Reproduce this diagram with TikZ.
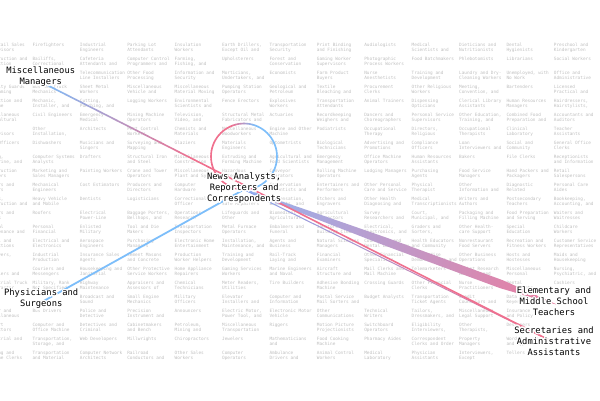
\documentclass[tikz,border=0pt]{standalone}
\usepackage{fontspec}
\usepackage[copies]{contour}
\usetikzlibrary{calc}
\newfontfamily\dvmono{DejaVu Sans Mono}
\definecolor{blueC}{RGB}{125,190,250}
\definecolor{pinkC}{RGB}{240,112,142}
\definecolor{lineA}{RGB}{135,165,240}
\definecolor{bandA}{RGB}{150,180,240}
\definecolor{bandB}{RGB}{198,172,226}
\definecolor{bandC}{RGB}{236,124,158}
\definecolor{bgtxt}{RGB}{192,192,192}
\contourlength{1.3pt}
\contournumber{20}
\pgfdeclarelayer{bglayer}
\pgfdeclarelayer{edgelayer}
\pgfsetlayers{bglayer,edgelayer,main}
\tikzset{
  bgtext/.style={anchor=base west, inner sep=0pt, text=bgtxt, font=\dvmono\fontsize{4.4}{4.5}\selectfont},
  lbl/.style={inner sep=0pt, align=center, text=black, font=\dvmono\fontsize{8.8}{8.9}\selectfont},
  edgeline/.style={line cap=round},
}
\newcommand\bgcell[4]{\node[bgtext] (bg#1r#2) at ({32.3+47.4*(#1)},{46.5+14*(#2)}) {\vtop{\baselineskip=4.5pt\lineskiplimit=-5pt\hbox{#3}\hbox{#4}}};}
\newcommand\lab[1]{\contour{white}{\vphantom{lg}#1}}

\begin{document}
\begin{tikzpicture}[x=1pt,y=-1pt]
\useasboundingbox (0,0) rectangle (600,400);
\begin{pgfonlayer}{bglayer}
\fill[white] (0,0) rectangle (600,400);
\clip (0,0) rectangle (600,400);
% row 0
\bgcell{-1}{0}{Nonretail Sales}{Supervisors}
\bgcell{0}{0}{Firefighters}{}
\bgcell{1}{0}{Industrial}{Engineers}
\bgcell{2}{0}{Parking Lot}{Attendants}
\bgcell{3}{0}{Insulation}{Workers}
\bgcell{4}{0}{Earth Drillers,}{Except Oil and}
\bgcell{5}{0}{Transportation}{Security}
\bgcell{6}{0}{Print Binding}{and Finishing}
\bgcell{7}{0}{Audiologists}{}
\bgcell{8}{0}{Medical}{Scientists and}
\bgcell{9}{0}{Dieticians and}{Nutritionists}
\bgcell{10}{0}{Dental}{Hygienists}
\bgcell{11}{0}{Preschool and}{Kindergarten}
% row 1
\bgcell{-1}{1}{Construction and}{Extraction}
\bgcell{0}{1}{Bailiffs,}{Correctional}
\bgcell{1}{1}{Cafeteria}{Attendants and}
\bgcell{2}{1}{Computer Control}{Programmers and}
\bgcell{3}{1}{Farming,}{Fishing, and}
\bgcell{4}{1}{Upholsterers}{}
\bgcell{5}{1}{Forest and}{Conservation}
\bgcell{6}{1}{Gaming Worker}{Supervisors}
\bgcell{7}{1}{Photographic}{Process Workers}
\bgcell{8}{1}{Food Batchmakers}{}
\bgcell{9}{1}{Phlebotomists}{}
\bgcell{10}{1}{Librarians}{}
\bgcell{11}{1}{Social Workers}{}
% row 2
\bgcell{1}{2}{Telecommunication}{Line Installers}
\bgcell{2}{2}{Other Food}{Processing}
\bgcell{3}{2}{Information and}{Security}
\bgcell{4}{2}{Morticians,}{Undertakers, and}
\bgcell{5}{2}{Economists}{}
\bgcell{6}{2}{Farm Product}{Buyers}
\bgcell{7}{2}{Nurse}{Anesthetists}
\bgcell{8}{2}{Training and}{Development}
\bgcell{9}{2}{Laundry and Dry-}{Cleaning Workers}
\bgcell{10}{2}{Unemployed, with}{No Work}
\bgcell{11}{2}{Office and}{Administrative}
% row 3
\bgcell{-1}{3}{Security Guards}{and Gaming}
\bgcell{0}{3}{Bus and Truck}{Mechanics}
\bgcell{1}{3}{Sheet Metal}{Workers}
\bgcell{2}{3}{Miscellaneous}{Vehicle and}
\bgcell{3}{3}{Miscellaneous}{Material Moving}
\bgcell{4}{3}{Pumping Station}{Operators}
\bgcell{5}{3}{Geological and}{Petroleum}
\bgcell{6}{3}{Textile}{Bleaching and}
\bgcell{7}{3}{Procurement}{Clerks}
\bgcell{8}{3}{Other Religious}{Workers}
\bgcell{9}{3}{Meeting,}{Convention, and}
\bgcell{10}{3}{Bartenders}{}
\bgcell{11}{3}{Licensed}{Practical and}
% row 4
\bgcell{-1}{4}{Production and}{Combine}
\bgcell{0}{4}{Mechanic,}{Installer, and}
\bgcell{1}{4}{Cutting,}{Punching, and}
\bgcell{2}{4}{Logging Workers}{}
\bgcell{3}{4}{Environmental}{Scientists and}
\bgcell{4}{4}{Fence Erectors}{}
\bgcell{5}{4}{Explosives}{Workers}
\bgcell{6}{4}{Transportation}{Attendants}
\bgcell{7}{4}{Animal Trainers}{}
\bgcell{8}{4}{Dispensing}{Opticians}
\bgcell{9}{4}{Clerical Library}{Assistants}
\bgcell{10}{4}{Human Resources}{Managers}
\bgcell{11}{4}{Hairdressers,}{Hairstylists,}
% row 5
\bgcell{-1}{5}{Miscellaneous}{Agricultural}
\bgcell{0}{5}{Civil Engineers}{}
\bgcell{1}{5}{Emergency}{Medical}
\bgcell{2}{5}{Mining Machine}{Operators}
\bgcell{3}{5}{Television,}{Video, and}
\bgcell{4}{5}{Structural Metal}{Fabricators and}
\bgcell{5}{5}{Actuaries}{}
\bgcell{6}{5}{Recordkeeping}{Weighers and}
\bgcell{7}{5}{Dancers and}{Choreographers}
\bgcell{8}{5}{Personal Service}{Supervisors}
\bgcell{9}{5}{Other Education,}{Training, and}
\bgcell{10}{5}{Combined Food}{Preparation and}
\bgcell{11}{5}{Accountants and}{Auditors}
% row 6
\bgcell{-1}{6}{Other}{Supervisors}
\bgcell{0}{6}{Other}{Installation,}
\bgcell{1}{6}{Architects}{}
\bgcell{2}{6}{Pest Control}{Workers}
\bgcell{3}{6}{Chemists and}{Materials}
\bgcell{4}{6}{Miscellaneous}{Woodworkers}
\bgcell{5}{6}{Engine and Other}{Machine}
\bgcell{6}{6}{Podiatrists}{}
\bgcell{7}{6}{Occupational}{Therapy}
\bgcell{8}{6}{Directors,}{Religious}
\bgcell{9}{6}{Occupational}{Therapists}
\bgcell{10}{6}{Clinical}{Laboratory}
\bgcell{11}{6}{Teacher}{Assistants}
% row 7
\bgcell{-1}{7}{Loan Officers}{}
\bgcell{0}{7}{Dishwashers}{}
\bgcell{1}{7}{Musicians and}{Singers}
\bgcell{2}{7}{Surveying and}{Mapping}
\bgcell{3}{7}{Glaziers}{}
\bgcell{4}{7}{Materials}{Engineers}
\bgcell{5}{7}{Optometrists}{}
\bgcell{6}{7}{Biological}{Technicians}
\bgcell{7}{7}{Advertising and}{Promotions}
\bgcell{8}{7}{Compliance}{Officers}
\bgcell{9}{7}{Loan}{Interviewers and}
\bgcell{10}{7}{Social and}{Community}
\bgcell{11}{7}{General Office}{Clerks}
% row 8
\bgcell{-1}{8}{Mining,}{Submarine, and}
\bgcell{0}{8}{Computer Systems}{Analysts}
\bgcell{1}{8}{Drafters}{}
\bgcell{2}{8}{Structural Iron}{and Steel}
\bgcell{3}{8}{Miscellaneous}{Construction}
\bgcell{4}{8}{Extruding and}{Forming Machine}
\bgcell{5}{8}{Agricultural and}{Food Scientists}
\bgcell{6}{8}{Emergency}{Management}
\bgcell{7}{8}{Office Machine}{Operators}
\bgcell{8}{8}{Human Resources}{Assistants}
\bgcell{9}{8}{Bakers}{}
\bgcell{10}{8}{File Clerks}{}
\bgcell{11}{8}{Receptionists}{and Information}
% row 9
\bgcell{-1}{9}{Construction}{Laborers}
\bgcell{0}{9}{Marketing and}{Sales Managers}
\bgcell{1}{9}{Painting Workers}{}
\bgcell{2}{9}{Crane and Tower}{Operators}
\bgcell{3}{9}{Miscellaneous}{Plant and System}
\bgcell{4}{9}{Hazardous}{Materials}
\bgcell{5}{9}{Conveyor}{Operators}
\bgcell{6}{9}{Rolling Machine}{Operators}
\bgcell{7}{9}{Lodging Managers}{}
\bgcell{8}{9}{Purchasing}{Agents}
\bgcell{9}{9}{Food Service}{Managers}
\bgcell{10}{9}{Hand Packers and}{Packagers}
\bgcell{11}{9}{Retail}{Salespersons}
% row 10
\bgcell{-1}{10}{Helpers and}{Packers}
\bgcell{0}{10}{Mechanical}{Engineers}
\bgcell{1}{10}{Cost Estimators}{}
\bgcell{2}{10}{Producers and}{Directors}
\bgcell{3}{10}{Computer}{Hardware}
\bgcell{5}{10}{Conservation}{Scientists and}
\bgcell{6}{10}{Entertainers and}{Performers}
\bgcell{7}{10}{Other Personal}{Care and Service}
\bgcell{8}{10}{Physical}{Therapist}
\bgcell{9}{10}{Other}{Information and}
\bgcell{10}{10}{Diagnostic}{Related}
\bgcell{11}{10}{Personal Care}{Aides}
% row 11
\bgcell{-1}{11}{Buyers,}{Construction and}
\bgcell{0}{11}{Heavy Vehicle}{and Mobile}
\bgcell{1}{11}{Dentists}{}
\bgcell{2}{11}{Logisticians}{}
\bgcell{3}{11}{Correctional}{Officer}
\bgcell{4}{11}{Locksmiths and}{Safe Repairers}
\bgcell{5}{11}{Compensation,}{Benefits, and}
\bgcell{6}{11}{Etchers and}{Engravers}
\bgcell{7}{11}{Other Health}{Diagnosing and}
\bgcell{8}{11}{Medical}{Transcriptionists}
\bgcell{9}{11}{Writers and}{Authors}
\bgcell{10}{11}{Postsecondary}{Teachers}
\bgcell{11}{11}{Bookkeeping,}{Accounting, and}
% row 12
\bgcell{-1}{12}{Sailors and}{Pilots}
\bgcell{0}{12}{Roofers}{}
\bgcell{1}{12}{Electrical}{Power-Line}
\bgcell{2}{12}{Baggage Porters,}{Bellhops, and}
\bgcell{3}{12}{Operations}{Research}
\bgcell{4}{12}{Lifeguards and}{Other}
\bgcell{5}{12}{Biomedical and}{Agricultural}
\bgcell{6}{12}{Agricultural}{Inspectors}
\bgcell{7}{12}{Survey}{Researchers and}
\bgcell{8}{12}{Court,}{Municipal, and}
\bgcell{9}{12}{Packaging and}{Filling Machine}
\bgcell{10}{12}{Food Preparation}{and Serving}
\bgcell{11}{12}{Waiters and}{Waitresses}
% row 13
\bgcell{-1}{13}{Medical}{Maintenance and}
\bgcell{0}{13}{Personal}{Financial}
\bgcell{1}{13}{Enlisted}{Military}
\bgcell{2}{13}{Tool and Die}{Makers}
\bgcell{3}{13}{Transportation}{Inspectors}
\bgcell{4}{13}{Metal Furnace}{Operators}
\bgcell{5}{13}{Embalmers and}{Funeral}
\bgcell{6}{13}{Janitors and}{Building Cleaners}
\bgcell{7}{13}{Electrical,}{Electronics, and}
\bgcell{8}{13}{Graders and}{Sorters,}
\bgcell{9}{13}{Other Health-}{care Support}
\bgcell{10}{13}{Special}{Education}
\bgcell{11}{13}{Childcare}{Workers}
% row 14
\bgcell{-1}{14}{Postal and}{Inspections}
\bgcell{0}{14}{Electrical and}{Electronics}
\bgcell{1}{14}{Aerospace}{Engineers}
\bgcell{2}{14}{Purchasing}{Managers}
\bgcell{3}{14}{Electronic Home}{Entertainment}
\bgcell{4}{14}{Installation,}{Maintenance, and}
\bgcell{5}{14}{Agents and}{Business}
\bgcell{6}{14}{Natural Sciences}{Managers}
\bgcell{7}{14}{Counselors and}{Dental Laboratory}
\bgcell{8}{14}{Health Educators}{and Community}
\bgcell{9}{14}{Nonrestaurant}{Food Servers}
\bgcell{10}{14}{Recreation and}{Fitness Workers}
\bgcell{11}{14}{Customer Service}{Representatives}
% row 15
\bgcell{-1}{15}{Employers,}{}
\bgcell{0}{15}{Industrial}{Production}
\bgcell{1}{15}{Insurance Sales}{Agents}
\bgcell{2}{15}{Cement Masons}{and Concrete}
\bgcell{3}{15}{Production}{Worker Helpers}
\bgcell{4}{15}{Training and}{Development}
\bgcell{5}{15}{Rail-Track}{Laying and}
\bgcell{6}{15}{Financial}{Examiners}
\bgcell{7}{15}{Other Financial}{Specialists}
\bgcell{8}{15}{Merchandise}{Demonstrators and}
\bgcell{9}{15}{Other Business}{Operations}
\bgcell{10}{15}{Hosts and}{Hostesses}
\bgcell{11}{15}{Maids and}{Housekeeping}
% row 16
\bgcell{-1}{16}{Other}{Travelers and}
\bgcell{0}{16}{Couriers and}{Messengers}
\bgcell{1}{16}{Housekeeping and}{Janitorial}
\bgcell{2}{16}{Other Protective}{Service Workers}
\bgcell{3}{16}{Home Appliance}{Repairers}
\bgcell{4}{16}{Gaming Services}{Workers}
\bgcell{5}{16}{Marine Engineers}{and Naval}
\bgcell{6}{16}{Aircraft}{Structure and}
\bgcell{7}{16}{Mail Clerks and}{Mail Machine}
\bgcell{8}{16}{Telemarketers}{}
\bgcell{9}{16}{Market Research}{Analysts and}
\bgcell{10}{16}{Miscellaneous}{Personal}
\bgcell{11}{16}{Nursing,}{Psychiatric, and}
% row 17
\bgcell{-1}{17}{Industrial Truck}{and Tractor}
\bgcell{0}{17}{Military, Rank}{Not Specified}
\bgcell{1}{17}{Highway}{Maintenance}
\bgcell{2}{17}{Appraisers and}{Assessors of}
\bgcell{3}{17}{Chemical}{Technicians}
\bgcell{4}{17}{Meter Readers,}{Utilities}
\bgcell{5}{17}{Tire Builders}{}
\bgcell{6}{17}{Adhesive Bonding}{Machine}
\bgcell{7}{17}{Crossing Guards}{}
\bgcell{8}{17}{Other Financial}{Clerks}
\bgcell{9}{17}{Nurse}{Practitioners}
\bgcell{10}{17}{Dental}{Assistants}
\bgcell{11}{17}{Cashiers}{}
% row 18
\bgcell{1}{18}{Broadcast and}{Sound}
\bgcell{2}{18}{Small Engine}{Mechanics}
\bgcell{3}{18}{Military}{Officers}
\bgcell{4}{18}{Elevator}{Installers and}
\bgcell{5}{18}{Computer and}{Information}
\bgcell{6}{18}{Postal Service}{Mail Sorters and}
\bgcell{7}{18}{Budget Analysts}{}
\bgcell{8}{18}{Transportation}{Ticket Agents}
\bgcell{9}{18}{Credit}{Counselors and}
\bgcell{10}{18}{Data Entry}{Keyers}
% row 19
\bgcell{-1}{19}{Barber and}{Miscellaneous}
\bgcell{0}{19}{Bus Drivers}{}
\bgcell{1}{19}{Police and}{Detective}
\bgcell{2}{19}{Precision}{Instrument and}
\bgcell{3}{19}{Announcers}{}
\bgcell{4}{19}{Electric Motor,}{Power Tool, and}
\bgcell{5}{19}{Electronic Motor}{Vehicle}
\bgcell{6}{19}{Other}{Communications}
\bgcell{7}{19}{Technical}{Writers}
\bgcell{8}{19}{Tailors,}{Dressmakers, and}
\bgcell{9}{19}{Miscellaneous}{Legal Support}
\bgcell{10}{19}{Insurance Claims}{and Policy}
% row 20
\bgcell{-1}{20}{Support}{Inspectors}
\bgcell{0}{20}{Computer and}{Office Machine}
\bgcell{1}{20}{Detectives and}{Criminal}
\bgcell{2}{20}{Cabinetmakers}{and Bench}
\bgcell{3}{20}{Petroleum,}{Mining and}
\bgcell{4}{20}{Miscellaneous}{Transportation}
\bgcell{5}{20}{Riggers}{}
\bgcell{6}{20}{Motion Picture}{Projectionists}
\bgcell{7}{20}{Switchboard}{Operators}
\bgcell{8}{20}{Eligibility}{Interviewers,}
\bgcell{9}{20}{Other}{Therapists,}
\bgcell{10}{20}{Designers}{}
% row 21
\bgcell{-1}{21}{Industrial and}{}
\bgcell{0}{21}{Transportation,}{Storage, and}
\bgcell{1}{21}{Web Developers}{}
\bgcell{2}{21}{Millwrights}{}
\bgcell{3}{21}{Chiropractors}{}
\bgcell{4}{21}{Jewelers}{}
\bgcell{5}{21}{Mathematicians}{and}
\bgcell{6}{21}{Food Cooking}{Machine}
\bgcell{7}{21}{Pharmacy Aides}{}
\bgcell{8}{21}{Correspondent}{Clerks and Order}
\bgcell{9}{21}{Property}{Managers}
\bgcell{10}{21}{Word Processors}{and Typists}
% row 22
\bgcell{-1}{22}{Billing and}{Machine Clerks}
\bgcell{0}{22}{Transportation}{and Material}
\bgcell{1}{22}{Computer Network}{Architects}
\bgcell{2}{22}{Railroad}{Conductors and}
\bgcell{3}{22}{Other Sales}{Workers}
\bgcell{4}{22}{Computer}{Operators}
\bgcell{5}{22}{Ambulance}{Drivers and}
\bgcell{6}{22}{Animal Control}{Workers}
\bgcell{7}{22}{Medical}{Laboratory}
\bgcell{8}{22}{Physician}{Assistants}
\bgcell{9}{22}{Interviewers,}{Except}
\bgcell{10}{22}{Tellers}{}
\end{pgfonlayer}

% labels
\node[lbl] (misc) at (40.7,77.55) {\lab{Miscellaneous}\\\lab{Managers}};
\node[lbl] (phys) at (41.2,299.55) {\lab{Physicians and}\\\lab{Surgeons}};
\node[lbl] (news) at (244.2,189.1) {\lab{News Analysts,}\\\lab{Reporters and}\\\lab{Correspondents}};
\node[lbl] (elem) at (554,303.1) {\lab{Elementary and}\\\lab{Middle School}\\\lab{Teachers}};
\node[lbl] (secr) at (554,342.4) {\lab{Secretaries and}\\\lab{Administrative}\\\lab{Assistants}};

\coordinate (miscE) at ($(misc.center)+(-0.7,3.85)$);
\coordinate (physE) at ($(phys.center)+(-0.2,2.95)$);
\coordinate (newsE) at ($(news.center)+(-0.2,0.4)$);
\coordinate (elemE) at ($(elem.center)+(4,1.9)$);
\coordinate (secrE) at ($(secr.center)+(0,0.1)$);
\coordinate (loopC) at ($(newsE)+(0,-33)$);

\begin{pgfonlayer}{edgelayer}
% News -> Elementary (tapered band)
\coordinate (b1) at ($(newsE)!0.2!(elemE)$);
\coordinate (b2) at ($(newsE)!0.45!(elemE)$);
\coordinate (b3) at ($(newsE)!0.82!(elemE)$);
\shade[left color=bandA, middle color=bandB, right color=bandC]
  ($(newsE)!0.9pt!90:(elemE)$) -- ($(b1)!2.5pt!90:(elemE)$) -- ($(b2)!4pt!90:(elemE)$)
  -- ($(b3)!4.2pt!90:(elemE)$) -- (elemE) -- ($(b3)!4.2pt!-90:(elemE)$)
  -- ($(b2)!4pt!-90:(elemE)$) -- ($(b1)!2.5pt!-90:(elemE)$) -- ($(newsE)!0.9pt!-90:(elemE)$) -- cycle;
% News -> Secretaries (thin gradient)
\foreach \i in {0,...,39}{
  \pgfmathsetmacro\ta{\i/40}
  \pgfmathsetmacro\tb{(\i+1)/40}
  \pgfmathtruncatemacro\p{(\i+0.5)/40*100}
  \draw[edgeline, line width=1pt, color=pinkC!\p!lineA] ($(newsE)!\ta!(secrE)$) -- ($(newsE)!\tb!(secrE)$);
}
% Physicians -> News
\draw[edgeline, line width=1.8pt, blueC] (physE) -- (newsE);
% self loop
\foreach \i in {0,...,71}{
  \pgfmathsetmacro\aa{5*\i}
  \pgfmathsetmacro\ab{5*\i+5}
  \pgfmathtruncatemacro\p{max(0,min(100,50-140*cos(5*\i+2.5)))}
  \draw[edgeline, line width=1.6pt, color=pinkC!\p!blueC] ($(loopC)+(\aa:33)$) -- ($(loopC)+(\ab:33)$);
}
% Misc -> Secretaries
\foreach \i in {0,...,29}{
  \pgfmathsetmacro\ta{\i/100}
  \pgfmathsetmacro\tb{(\i+1)/100}
  \pgfmathtruncatemacro\p{(\i+0.5)/30*100}
  \draw[edgeline, line width=1.6pt, color=pinkC!\p!blueC] ($(miscE)!\ta!(secrE)$) -- ($(miscE)!\tb!(secrE)$);
}
\draw[edgeline, line width=1.6pt, pinkC] ($(miscE)!0.3!(secrE)$) -- (secrE);
\end{pgfonlayer}
\end{tikzpicture}
\end{document}
